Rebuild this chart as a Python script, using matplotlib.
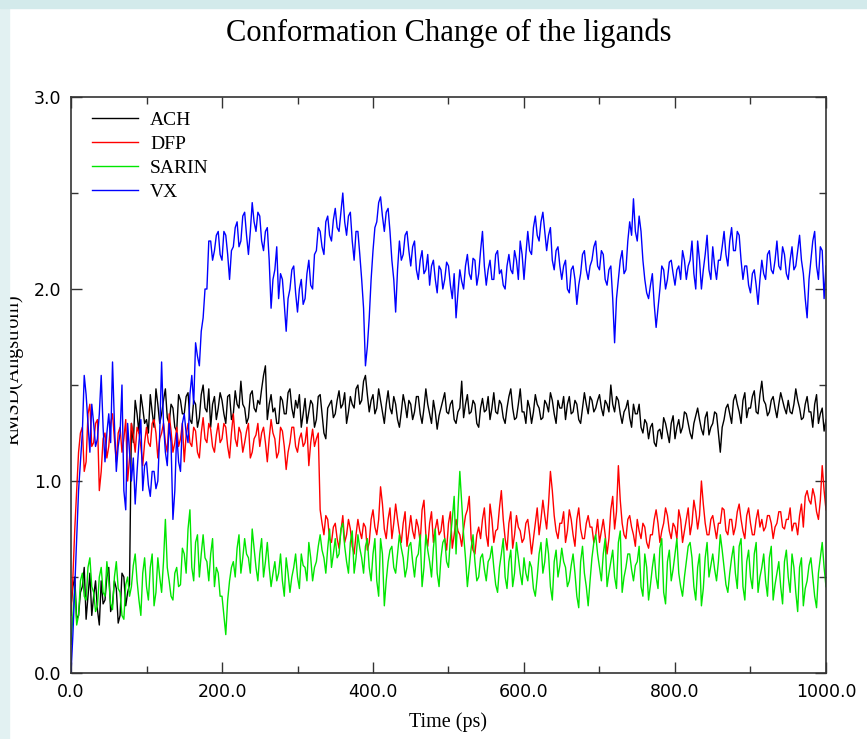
import numpy as np
import matplotlib
matplotlib.use("Agg")
import matplotlib.pyplot as plt
from matplotlib.patches import Rectangle
from matplotlib.ticker import MultipleLocator, FormatStrFormatter

# RMSD of each ligand, one value every 2.5 ps
time_ps = np.arange(0, 1000.1, 2.5)

ach = [0.35, 0.45, 0.50, 0.28, 0.30, 0.42, 0.45, 0.55, 0.28, 0.40, 0.52, 0.30, 0.40, 0.48, 0.33, 0.25, 0.48, 0.36, 0.38, 0.50,
       0.55, 0.32, 0.36, 0.48, 0.44, 0.26, 0.30, 0.52, 0.50, 0.35, 0.42, 0.46, 1.30, 1.20, 1.42, 1.35, 1.25, 1.45, 1.38, 1.30,
       1.32, 1.25, 1.45, 1.36, 1.28, 1.48, 1.40, 1.30, 1.35, 1.42, 1.48, 1.33, 1.30, 1.40, 1.38, 1.28, 1.26, 1.45, 1.42, 1.35,
       1.35, 1.44, 1.46, 1.32, 1.30, 1.42, 1.40, 1.28, 1.33, 1.45, 1.50, 1.38, 1.36, 1.48, 1.28, 1.40, 1.44, 1.32, 1.38, 1.46,
       1.42, 1.35, 1.30, 1.44, 1.45, 1.32, 1.35, 1.47, 1.40, 1.38, 1.52, 1.40, 1.38, 1.30, 1.33, 1.45, 1.47, 1.38, 1.36, 1.42,
       1.40, 1.48, 1.55, 1.60, 1.32, 1.40, 1.45, 1.36, 1.38, 1.30, 1.30, 1.44, 1.42, 1.35, 1.35, 1.46, 1.48, 1.38, 1.33, 1.42,
       1.38, 1.45, 1.28, 1.35, 1.43, 1.30, 1.36, 1.42, 1.40, 1.28, 1.32, 1.44, 1.45, 1.35, 1.25, 1.22, 1.38, 1.40, 1.42, 1.33,
       1.35, 1.42, 1.47, 1.38, 1.40, 1.46, 1.30, 1.36, 1.44, 1.40, 1.38, 1.48, 1.50, 1.40, 1.42, 1.52, 1.55, 1.45, 1.36, 1.42,
       1.45, 1.35, 1.38, 1.48, 1.42, 1.36, 1.30, 1.40, 1.47, 1.38, 1.35, 1.44, 1.40, 1.32, 1.28, 1.36, 1.45, 1.40, 1.33, 1.42,
       1.40, 1.32, 1.36, 1.44, 1.44, 1.35, 1.30, 1.38, 1.48, 1.40, 1.35, 1.30, 1.42, 1.36, 1.27, 1.34, 1.38, 1.42, 1.46, 1.36,
       1.35, 1.40, 1.42, 1.32, 1.30, 1.36, 1.38, 1.52, 1.33, 1.40, 1.45, 1.35, 1.36, 1.42, 1.40, 1.30, 1.28, 1.38, 1.43, 1.36,
       1.37, 1.44, 1.32, 1.38, 1.46, 1.36, 1.35, 1.42, 1.40, 1.33, 1.30, 1.38, 1.44, 1.48, 1.38, 1.32, 1.33, 1.40, 1.48, 1.36,
       1.36, 1.30, 1.42, 1.38, 1.30, 1.36, 1.45, 1.40, 1.38, 1.32, 1.33, 1.42, 1.40, 1.36, 1.46, 1.42, 1.35, 1.30, 1.42, 1.38,
       1.38, 1.44, 1.32, 1.40, 1.44, 1.35, 1.36, 1.42, 1.40, 1.32, 1.30, 1.38, 1.46, 1.40, 1.35, 1.44, 1.42, 1.36, 1.38, 1.42,
       1.45, 1.38, 1.34, 1.42, 1.40, 1.36, 1.50, 1.40, 1.36, 1.44, 1.42, 1.35, 1.30, 1.36, 1.38, 1.42, 1.33, 1.28, 1.40, 1.35,
       1.35, 1.40, 1.28, 1.25, 1.32, 1.30, 1.22, 1.28, 1.30, 1.20, 1.18, 1.26, 1.27, 1.22, 1.33, 1.30, 1.25, 1.20, 1.30, 1.34,
       1.22, 1.28, 1.32, 1.25, 1.28, 1.36, 1.35, 1.30, 1.25, 1.22, 1.30, 1.34, 1.38, 1.32, 1.27, 1.24, 1.33, 1.36, 1.24, 1.28,
       1.30, 1.36, 1.35, 1.25, 1.15, 1.28, 1.32, 1.38, 1.40, 1.35, 1.30, 1.42, 1.45, 1.40, 1.36, 1.30, 1.42, 1.46, 1.33, 1.38,
       1.38, 1.44, 1.47, 1.36, 1.35, 1.45, 1.52, 1.42, 1.40, 1.34, 1.36, 1.42, 1.44, 1.38, 1.33, 1.40, 1.46, 1.42, 1.38, 1.35,
       1.42, 1.36, 1.35, 1.40, 1.48, 1.42, 1.38, 1.32, 1.33, 1.40, 1.44, 1.36, 1.36, 1.28, 1.40, 1.45, 1.30, 1.35, 1.38, 1.26,
       1.32]

dfp = [0.30, 0.50, 0.75, 0.95, 1.15, 1.25, 1.28, 1.05, 1.10, 1.35, 1.40, 1.18, 1.20, 1.30, 1.32, 0.95, 1.05, 1.22, 1.25, 1.12,
       1.18, 1.30, 1.35, 1.22, 1.10, 1.25, 1.28, 1.15, 1.22, 1.32, 1.00, 1.12, 1.30, 1.24, 1.15, 1.28, 1.25, 1.18, 1.08, 1.20,
       1.28, 1.20, 1.18, 1.30, 1.32, 1.25, 1.12, 1.22, 1.25, 1.30, 1.20, 1.15, 1.35, 1.26, 1.15, 1.20, 1.28, 1.18, 1.22, 1.30,
       1.10, 1.24, 1.30, 1.20, 1.18, 1.28, 1.26, 1.15, 1.12, 1.25, 1.33, 1.22, 1.20, 1.30, 1.27, 1.18, 1.15, 1.24, 1.30, 1.20,
       1.22, 1.30, 1.28, 1.18, 1.12, 1.25, 1.35, 1.22, 1.18, 1.28, 1.25, 1.15, 1.20, 1.26, 1.30, 1.12, 1.15, 1.22, 1.24, 1.30,
       1.18, 1.25, 1.28, 1.20, 1.10, 1.22, 1.32, 1.25, 1.22, 1.12, 1.15, 1.28, 1.26, 1.18, 1.06, 1.15, 1.20, 1.28, 1.28, 1.18,
       1.15, 1.22, 1.25, 1.18, 1.20, 1.28, 1.08, 1.20, 1.27, 1.18, 1.22, 1.25, 0.85, 0.78, 0.72, 0.82, 0.80, 0.70, 0.68, 0.76,
       0.78, 0.70, 0.65, 0.74, 0.82, 0.68, 0.72, 0.80, 0.75, 0.66, 0.62, 0.72, 0.80, 0.74, 0.70, 0.78, 0.76, 0.64, 0.68, 0.80,
       0.85, 0.76, 0.72, 0.80, 0.97, 0.88, 0.75, 0.70, 0.80, 0.86, 0.70, 0.78, 0.88, 0.80, 0.73, 0.68, 0.78, 0.84, 0.66, 0.74,
       0.82, 0.74, 0.70, 0.80, 0.76, 0.68, 0.85, 0.90, 0.72, 0.66, 0.78, 0.84, 0.68, 0.75, 0.80, 0.72, 0.74, 0.82, 0.70, 0.64,
       0.78, 0.84, 0.65, 0.72, 0.80, 0.74, 0.72, 0.66, 0.75, 0.82, 0.85, 0.92, 0.70, 0.64, 0.62, 0.72, 0.76, 0.70, 0.80, 0.86,
       0.72, 0.66, 0.88, 0.80, 0.68, 0.74, 0.75, 0.86, 0.95, 0.80, 0.70, 0.64, 0.78, 0.84, 0.65, 0.72, 0.82, 0.76, 0.74, 0.68,
       0.70, 0.78, 0.80, 0.72, 0.62, 0.70, 0.78, 0.86, 0.72, 0.80, 0.90, 0.82, 0.75, 0.88, 1.05, 0.95, 0.82, 0.74, 0.70, 0.78,
       0.78, 0.84, 0.68, 0.74, 0.85, 0.80, 0.72, 0.66, 0.80, 0.86, 0.75, 0.70, 0.70, 0.78, 0.82, 0.76, 0.76, 0.68, 0.72, 0.80,
       0.68, 0.74, 0.80, 0.72, 0.62, 0.70, 0.85, 0.92, 0.75, 0.84, 1.08, 0.90, 0.78, 0.72, 0.70, 0.80, 0.82, 0.76, 0.72, 0.66,
       0.80, 0.74, 0.70, 0.78, 0.76, 0.68, 0.65, 0.72, 0.72, 0.80, 0.85, 0.78, 0.68, 0.74, 0.78, 0.86, 0.82, 0.74, 0.70, 0.78,
       0.76, 0.70, 0.85, 0.80, 0.68, 0.74, 0.80, 0.86, 0.72, 0.78, 0.90, 0.84, 0.75, 0.82, 1.00, 0.88, 0.78, 0.72, 0.72, 0.80,
       0.82, 0.76, 0.70, 0.78, 0.78, 0.86, 0.85, 0.74, 0.72, 0.80, 0.80, 0.72, 0.76, 0.84, 0.88, 0.80, 0.74, 0.70, 0.82, 0.86,
       0.78, 0.72, 0.72, 0.80, 0.85, 0.76, 0.80, 0.74, 0.76, 0.82, 0.82, 0.78, 0.70, 0.76, 0.78, 0.84, 0.84, 0.76, 0.75, 0.80,
       0.80, 0.86, 0.74, 0.78, 0.78, 0.72, 0.82, 0.88, 0.76, 0.92, 0.95, 0.90, 0.88, 0.96, 0.92, 0.84, 0.80, 0.90, 1.08, 0.95,
       0.85]

sarin = [0.15, 0.30, 0.45, 0.25, 0.30, 0.48, 0.52, 0.40, 0.38, 0.55, 0.60, 0.45, 0.42, 0.32, 0.35, 0.50, 0.55, 0.42, 0.40, 0.58,
         0.48, 0.36, 0.33, 0.50, 0.58, 0.44, 0.42, 0.30, 0.28, 0.46, 0.50, 0.40, 0.45, 0.56, 0.62, 0.48, 0.38, 0.30, 0.52, 0.60,
         0.45, 0.38, 0.55, 0.62, 0.35, 0.42, 0.60, 0.50, 0.42, 0.58, 0.80, 0.55, 0.48, 0.40, 0.38, 0.52, 0.55, 0.45, 0.46, 0.65,
         0.62, 0.52, 0.75, 0.85, 0.55, 0.48, 0.68, 0.72, 0.50, 0.62, 0.72, 0.60, 0.58, 0.48, 0.62, 0.70, 0.45, 0.55, 0.52, 0.40,
         0.40, 0.30, 0.20, 0.38, 0.48, 0.55, 0.58, 0.50, 0.65, 0.72, 0.52, 0.60, 0.70, 0.62, 0.60, 0.52, 0.75, 0.65, 0.55, 0.48,
         0.62, 0.70, 0.50, 0.58, 0.68, 0.55, 0.45, 0.52, 0.58, 0.48, 0.52, 0.62, 0.48, 0.40, 0.60, 0.52, 0.42, 0.50, 0.55, 0.62,
         0.50, 0.44, 0.62, 0.56, 0.55, 0.48, 0.68, 0.60, 0.48, 0.55, 0.58, 0.66, 0.72, 0.64, 0.60, 0.52, 0.65, 0.75, 0.55, 0.62,
         0.70, 0.60, 0.62, 0.75, 0.78, 0.66, 0.58, 0.52, 0.68, 0.74, 0.52, 0.60, 0.72, 0.65, 0.60, 0.52, 0.66, 0.70, 0.55, 0.48,
         0.62, 0.70, 0.48, 0.40, 0.70, 0.62, 0.35, 0.48, 0.58, 0.64, 0.66, 0.55, 0.52, 0.62, 0.72, 0.65, 0.60, 0.50, 0.55, 0.66,
         0.68, 0.58, 0.50, 0.60, 0.62, 0.72, 0.45, 0.55, 0.72, 0.64, 0.58, 0.50, 0.65, 0.75, 0.52, 0.45, 0.60, 0.68, 0.70, 0.58,
         0.55, 0.70, 0.80, 0.92, 0.62, 0.85, 1.05, 0.88, 0.72, 0.60, 0.45, 0.55, 0.65, 0.72, 0.58, 0.48, 0.50, 0.60, 0.62, 0.54,
         0.48, 0.58, 0.60, 0.66, 0.55, 0.46, 0.42, 0.55, 0.62, 0.70, 0.50, 0.44, 0.58, 0.64, 0.45, 0.52, 0.68, 0.60, 0.52, 0.46,
         0.60, 0.52, 0.48, 0.58, 0.55, 0.44, 0.40, 0.50, 0.62, 0.68, 0.52, 0.58, 0.70, 0.62, 0.45, 0.38, 0.58, 0.64, 0.50, 0.56,
         0.65, 0.58, 0.55, 0.45, 0.48, 0.56, 0.62, 0.52, 0.40, 0.34, 0.58, 0.66, 0.52, 0.45, 0.35, 0.48, 0.60, 0.68, 0.72, 0.62,
         0.55, 0.48, 0.62, 0.70, 0.45, 0.52, 0.58, 0.64, 0.50, 0.44, 0.68, 0.74, 0.42, 0.50, 0.55, 0.62, 0.62, 0.54, 0.48, 0.56,
         0.58, 0.66, 0.45, 0.40, 0.62, 0.55, 0.38, 0.46, 0.55, 0.62, 0.50, 0.44, 0.65, 0.70, 0.42, 0.36, 0.58, 0.64, 0.48, 0.54,
         0.62, 0.70, 0.52, 0.45, 0.40, 0.50, 0.58, 0.66, 0.68, 0.60, 0.45, 0.38, 0.55, 0.62, 0.35, 0.44, 0.60, 0.68, 0.50, 0.56,
         0.62, 0.54, 0.48, 0.58, 0.72, 0.64, 0.55, 0.46, 0.42, 0.52, 0.60, 0.66, 0.52, 0.44, 0.66, 0.70, 0.45, 0.38, 0.58, 0.64,
         0.50, 0.44, 0.62, 0.68, 0.42, 0.50, 0.55, 0.62, 0.48, 0.40, 0.60, 0.66, 0.38, 0.46, 0.52, 0.58, 0.45, 0.36, 0.58, 0.64,
         0.50, 0.42, 0.62, 0.55, 0.42, 0.32, 0.55, 0.60, 0.35, 0.44, 0.48, 0.56, 0.60, 0.50, 0.40, 0.34, 0.52, 0.60, 0.68, 0.55,
         0.45]

vx = [0.00, 0.20, 0.45, 0.70, 0.95, 1.10, 1.25, 1.55, 1.45, 1.30, 1.15, 1.40, 1.30, 1.18, 1.22, 1.35, 1.55, 1.28, 1.10, 1.25,
      1.35, 1.20, 1.62, 1.30, 1.05, 1.18, 1.25, 1.50, 0.95, 0.85, 1.30, 1.15, 1.00, 1.12, 0.88, 1.05, 1.20, 1.32, 0.95, 1.08,
      1.10, 0.98, 0.92, 1.05, 1.05, 0.96, 1.00, 1.25, 1.62, 1.30, 1.15, 1.08, 1.30, 1.20, 0.80, 0.95, 1.25, 1.10, 1.05, 1.30,
      1.35, 1.25, 1.20, 1.45, 1.55, 1.40, 1.72, 1.65, 1.60, 1.78, 1.85, 2.00, 2.00, 2.25, 2.25, 2.15, 2.20, 2.28, 2.30, 2.18,
      2.15, 2.30, 2.28, 2.18, 2.05, 2.20, 2.22, 2.32, 2.35, 2.22, 2.25, 2.38, 2.40, 2.28, 2.18, 2.30, 2.45, 2.35, 2.30, 2.40,
      2.38, 2.25, 2.20, 2.30, 2.32, 2.15, 1.90, 2.05, 2.10, 2.22, 1.95, 2.08, 2.05, 1.92, 1.78, 1.95, 2.00, 2.10, 2.12, 1.98,
      1.88, 2.00, 2.05, 1.92, 1.95, 2.08, 2.15, 2.02, 2.00, 2.18, 2.20, 2.32, 2.30, 2.22, 2.18, 2.35, 2.38, 2.28, 2.25, 2.36,
      2.42, 2.32, 2.30, 2.40, 2.50, 2.35, 2.28, 2.38, 2.40, 2.25, 2.15, 2.30, 2.30, 2.18, 2.05, 1.90, 1.60, 1.70, 1.85, 2.05,
      2.20, 2.32, 2.35, 2.45, 2.48, 2.38, 2.30, 2.40, 2.42, 2.30, 2.15, 2.05, 1.88, 2.10, 2.25, 2.15, 2.18, 2.28, 2.30, 2.20,
      2.12, 2.22, 2.25, 2.10, 2.05, 2.15, 2.20, 2.08, 2.10, 2.18, 2.02, 2.12, 2.15, 2.05, 1.98, 2.12, 2.10, 2.00, 2.05, 2.14,
      2.12, 2.02, 1.95, 2.08, 1.85, 1.98, 2.10, 2.04, 2.00, 2.12, 2.18, 2.08, 2.05, 2.16, 2.15, 2.02, 2.08, 2.20, 2.30, 2.12,
      2.02, 2.10, 2.15, 2.05, 2.05, 2.18, 2.20, 2.08, 2.10, 2.02, 2.00, 2.12, 2.18, 2.10, 2.08, 2.20, 2.15, 2.05, 2.25, 2.18,
      2.05, 2.18, 2.30, 2.20, 2.18, 2.32, 2.38, 2.28, 2.25, 2.35, 2.40, 2.30, 2.20, 2.28, 2.32, 2.15, 2.10, 2.20, 2.22, 2.12,
      2.05, 2.12, 2.15, 2.00, 1.98, 2.10, 2.12, 2.05, 1.92, 2.02, 2.08, 2.18, 2.20, 2.10, 2.05, 2.12, 2.15, 2.22, 2.25, 2.12,
      2.10, 2.20, 2.18, 2.05, 2.02, 2.10, 2.12, 1.95, 1.72, 1.95, 2.05, 2.15, 2.20, 2.08, 2.10, 2.25, 2.35, 2.28, 2.47, 2.30,
      2.25, 2.38, 2.30, 2.15, 2.05, 1.98, 1.95, 2.02, 2.08, 1.92, 1.80, 1.90, 2.00, 2.12, 2.10, 2.00, 2.05, 2.14, 2.15, 2.08,
      2.02, 2.10, 2.12, 2.05, 2.20, 2.15, 2.05, 2.12, 2.15, 2.25, 2.08, 2.00, 2.25, 2.15, 2.00, 2.10, 2.18, 2.28, 2.10, 2.05,
      2.22, 2.12, 2.05, 2.15, 2.15, 2.22, 2.30, 2.18, 2.12, 2.25, 2.32, 2.20, 2.20, 2.30, 2.28, 2.15, 2.05, 2.12, 2.12, 2.02,
      1.98, 2.08, 2.10, 2.02, 1.92, 2.05, 2.15, 2.08, 2.05, 2.18, 2.20, 2.10, 2.08, 2.15, 2.25, 2.12, 2.10, 2.22, 2.18, 2.08,
      2.05, 2.15, 2.22, 2.10, 2.12, 2.20, 2.28, 2.15, 2.08, 1.95, 1.85, 2.05, 2.15, 2.25, 2.30, 2.12, 2.05, 2.22, 2.20, 1.95,
      2.12]

labels = ['ACH', 'DFP', 'SARIN', 'VX']
colors = ['#000000', '#ff0000', '#00e600', '#0000ff']

fig = plt.figure(figsize=(8.67, 7.39), dpi=100)
ax = fig.add_axes([0.0819, 0.0893, 0.8708, 0.7794])

for y, lab, c in zip([ach, dfp, sarin, vx], labels, colors):
    ax.plot(time_ps, y, color=c, lw=1.0, label=lab)

ax.set_xlim(0, 1000)
ax.set_ylim(0, 3.0)
ax.xaxis.set_major_locator(MultipleLocator(200))
ax.xaxis.set_minor_locator(MultipleLocator(100))
ax.yaxis.set_major_locator(MultipleLocator(1.0))
ax.yaxis.set_minor_locator(MultipleLocator(0.5))
ax.xaxis.set_major_formatter(FormatStrFormatter('%.1f'))
ax.yaxis.set_major_formatter(FormatStrFormatter('%.1f'))
ax.tick_params(which='both', direction='in', top=True, right=True,
               width=1.0, color='#333333', labelsize=12.5)
ax.tick_params(which='major', length=8, pad=7)
ax.tick_params(which='minor', length=5)
for s in ax.spines.values():
    s.set_linewidth(1.2)
    s.set_color('#333333')

serif = 'Liberation Serif'
ax.set_title('Conformation Change of the ligands', fontsize=22,
             family=serif, pad=40)
ax.set_xlabel('Time (ps)', fontsize=14.5, family=serif, labelpad=8)
fig.text(0.016, 0.5, 'RMSD(Angstrom)', rotation=90, fontsize=14.5,
         family=serif, ha='center', va='center')

ax.legend(loc='upper left', frameon=False, prop={'family': serif, 'size': 14},
          handlelength=2.4, handletextpad=0.6, labelspacing=0.32,
          borderaxespad=0.2, bbox_to_anchor=(0.012, 0.995))

# light cyan border of the original screenshot
fig.patches.append(Rectangle((0, 0), 9 / 867, 1, transform=fig.transFigure,
                             color='#e2f1f2', zorder=10))
fig.patches.append(Rectangle((0, 1 - 8 / 739), 1, 8 / 739,
                             transform=fig.transFigure, color='#d3eaeb', zorder=10))

fig.savefig('out.png', dpi=100)
